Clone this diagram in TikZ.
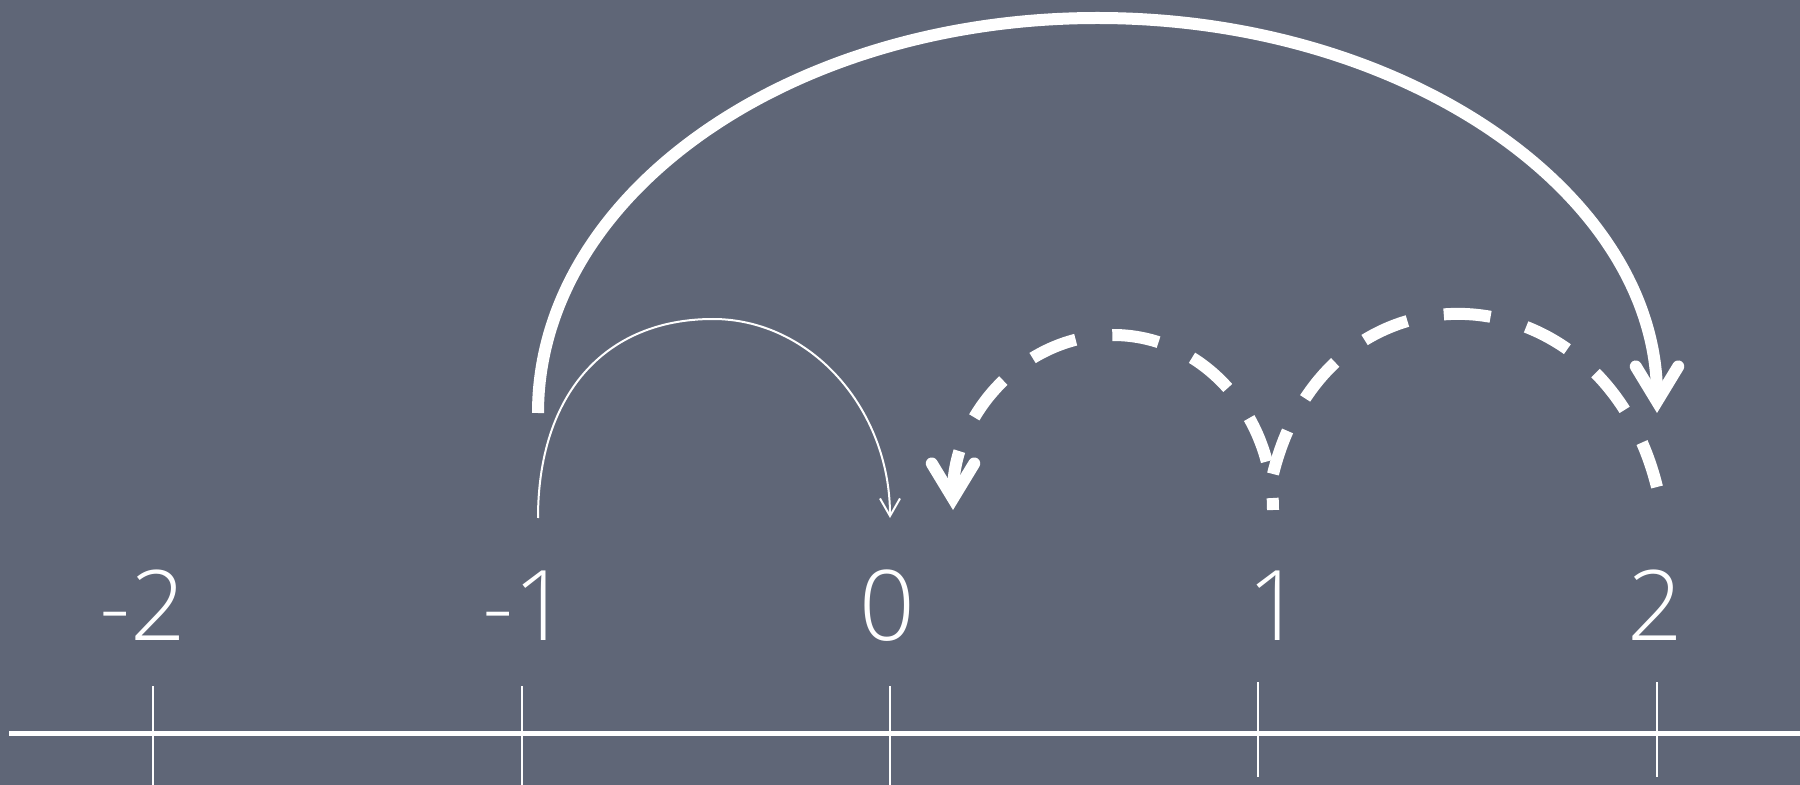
\documentclass[tikz,border=0pt]{standalone}
\usepackage{fontspec}
\IfFontExistsTF{Open Sans Light}{\setmainfont{Open Sans Light}}{\setmainfont{Open Sans}}
\usetikzlibrary{arrows.meta}
\definecolor{board}{RGB}{95,102,119}
\begin{document}
\begin{tikzpicture}[x=0.4pt,y=-0.4pt,
  numlabel/.style={text=white, anchor=base, inner sep=0pt, font=\fontsize{39}{39}\selectfont},
  axisline/.style={white, line width=2pt},
  tickline/.style={white, line width=0.8pt},
  bigjump/.style={white, line width=4.8pt, -{Straight Barb[length=14pt,width=17pt,line cap=round,line join=miter]}},
  smalljump/.style={white, line width=0.8pt, -{Straight Barb[length=7pt,width=8pt]}},
  dashjump/.style={white, line width=4.8pt, dash pattern=on 18.8pt off 14.8pt},
]
\fill[board] (0,0) rectangle (1800,785);
\useasboundingbox (0,0) rectangle (1800,785);

% axis
\coordinate (axL) at (9,733);
\coordinate (axR) at (1800,733);
\draw[axisline] (axL) -- (axR);

% ticks
\foreach \n/\x/\a/\b in {m2/153/686/785, m1/522/686/785, z0/890/686/785, p1/1258/682/777, p2/1657/682/777}{
  \coordinate (tt\n) at (\x,\a);
  \coordinate (tb\n) at (\x,\b);
  \draw[tickline] (tt\n) -- (tb\n);
}

% labels
\node[numlabel] (lm2) at (143,640) {-2};
\node[numlabel] (lm1) at (526,640) {-1};
\node[numlabel] (lz0) at (887.5,640) {0};
\node[numlabel] (lp1) at (1275,640) {1};
\node[numlabel] (lp2) at (1655,640) {2};

% big jump -1 -> 2 (semi-ellipse)
\coordinate (bigS) at (538,413);
\coordinate (bigT) at (1097.5,18);
\coordinate (bigE) at (1657,413);
\draw[bigjump] (bigS) .. controls (538,194.8) and (788.5,18) .. (bigT)
  .. controls (1406.5,18) and (1657,194.8) .. (bigE);

% small jump -1 -> 0
\coordinate (smS) at (538,518);
\coordinate (smT) at (713,319);
\coordinate (smE) at (890,518);
\draw[smalljump] (smS) .. controls (538,394.6) and (604.5,319) .. (smT)
  .. controls (810.4,319) and (890,408.6) .. (smE);

% dashed jump 2 -> 1
\coordinate (dbS) at (1657,487);
\coordinate (dbE) at (1273,474);
\draw[dashjump] (dbS) .. controls (1602,265) and (1328,252) .. (dbE);

% dashed jump 1 -> 0
\coordinate (daS) at (1273,510);
\coordinate (daT) at (1113,335);
\coordinate (daE) at (953,510);
\draw[dashjump, dash phase=14pt, -{Straight Barb[length=14pt,width=17pt,line cap=round,line join=miter]}]
  (daS) .. controls (1273,413.3) and (1201.4,335) .. (daT)
  .. controls (1024.6,335) and (953,413.3) .. (daE);
\end{tikzpicture}
\end{document}
